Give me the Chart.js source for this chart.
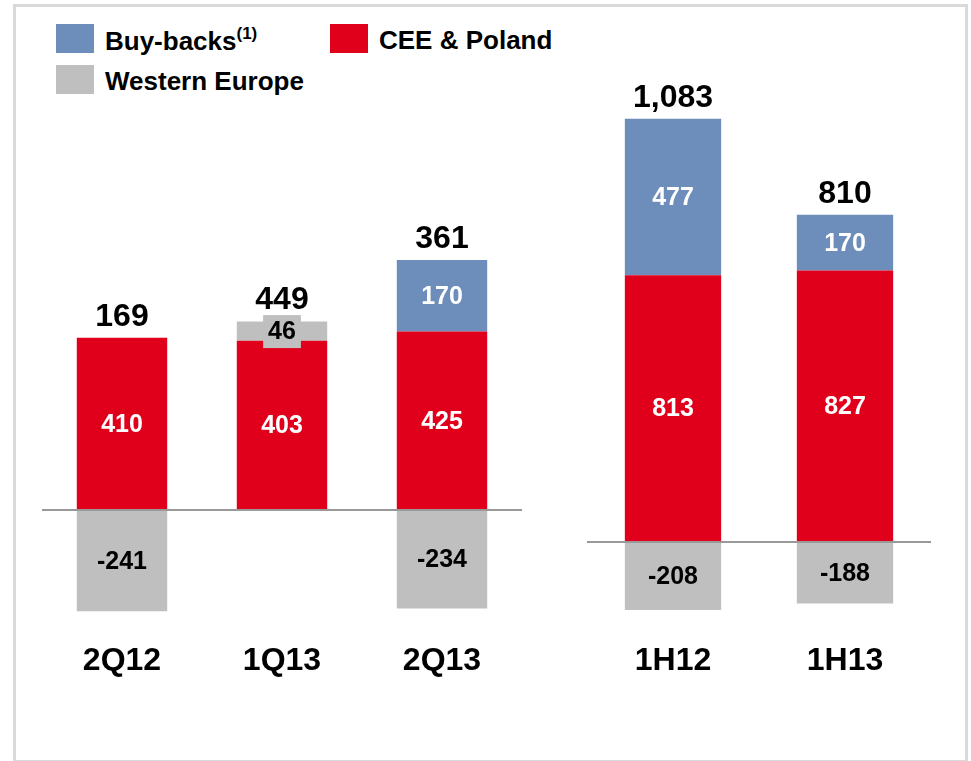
<!DOCTYPE html>
<html>
<head>
<meta charset="utf-8">
<script src="https://cdn.jsdelivr.net/npm/chart.js@4"></script>
<style>
  body { margin: 0; background: #fff; font-family: "Liberation Sans", Arial, sans-serif; }
  #frame { position: absolute; left: 13px; top: 4px; width: 949px; height: 753px; border: 3px solid #d9d9d9; }
  .leg { position: absolute; font-weight: bold; font-size: 26px; color: #000; display: flex; align-items: center; }
  .leg span.sq { display: inline-block; width: 38px; height: 29px; margin-right: 11px; }
  .leg span.tx { position: relative; top: 2px; }
  .leg sup { font-size: 17px; position: relative; top: -1px; }
  #left { position: absolute; left: 42px; top: 0; }
  #right { position: absolute; left: 587px; top: 0; }
</style>
</head>
<body>
<div id="frame"></div>
<div class="leg" style="left:56px; top:23px;"><span class="sq" style="background:#6d8dba"></span><span class="tx">Buy-backs<sup>(1)</sup></span></div>
<div class="leg" style="left:330px; top:23px;"><span class="sq" style="background:#e0001b"></span><span class="tx">CEE &amp; Poland</span></div>
<div class="leg" style="left:56px; top:64px;"><span class="sq" style="background:#bfbfbf"></span><span class="tx">Western Europe</span></div>
<canvas id="left" width="480" height="680"></canvas>
<canvas id="right" width="344" height="680"></canvas>
<script>
var quarterLabels = ['2Q12', '1Q13', '2Q13'];
var quarterCee = [410, 403, 425];
var quarterWestern = [-241, 46, -234];
var quarterBuyBacks = [0, 0, 170];
var quarterTotals = ['169', '449', '361'];

var halfLabels = ['1H12', '1H13'];
var halfCee = [813, 827];
var halfWestern = [-208, -188];
var halfBuyBacks = [477, 170];
var halfTotals = ['1,083', '810'];

var BLUE = '#6d8dba', RED = '#e0001b', GREY = '#bfbfbf';

// values inside segments, totals above, and the zero line
var labelPlugin = {
    id: 'labels',
    afterDatasetsDraw: function(chart, args, opts) {
        var ctx = chart.ctx;
        var y = chart.scales.y;
        var area = chart.chartArea;
        var zero = y.getPixelForValue(0);
        ctx.save();
        ctx.strokeStyle = '#999999';
        ctx.lineWidth = 2;
        ctx.beginPath();
        ctx.moveTo(area.left, zero);
        ctx.lineTo(area.right, zero);
        ctx.stroke();

        ctx.font = 'bold 25px "Liberation Sans", Arial, sans-serif';
        ctx.textAlign = 'center';
        ctx.textBaseline = 'middle';
        chart.data.datasets.forEach(function(ds, di) {
            var meta = chart.getDatasetMeta(di);
            meta.data.forEach(function(bar, i) {
                var v = ds.data[i];
                if (!v) return;
                var cy = (bar.y + bar.base) / 2;
                var txt = String(v);
                if (ds.label === 'Western Europe') {
                    var w = ctx.measureText(txt).width + 10;
                    ctx.fillStyle = GREY;
                    ctx.fillRect(bar.x - w / 2, cy - 16, w, 33);
                    ctx.fillStyle = '#000';
                } else {
                    ctx.fillStyle = '#fff';
                }
                ctx.fillText(txt, bar.x, cy + 1);
            });
        });

        ctx.font = 'bold 32px "Liberation Sans", Arial, sans-serif';
        ctx.fillStyle = '#000';
        opts.totals.forEach(function(t, i) {
            var top = zero, x = 0;
            chart.data.datasets.forEach(function(ds, di) {
                var bar = chart.getDatasetMeta(di).data[i];
                x = bar.x;
                if (ds.data[i] > 0) top = Math.min(top, bar.y);
            });
            ctx.fillText(t, x, top - 21);
        });
        ctx.restore();
    }
};

function makeChart(id, labels, cee, western, buy, totals, yMin, yMax, barPct) {
    return new Chart(document.getElementById(id).getContext('2d'), {
        type: 'bar',
        data: {
            labels: labels,
            datasets: [
                { label: 'CEE & Poland', data: cee, backgroundColor: RED },
                { label: 'Western Europe', data: western, backgroundColor: GREY },
                { label: 'Buy-backs', data: buy, backgroundColor: BLUE }
            ]
        },
        options: {
            responsive: false,
            animation: false,
            categoryPercentage: 1,
            barPercentage: barPct,
            layout: { padding: 0 },
            scales: {
                x: {
                    stacked: true,
                    grid: { display: false, drawTicks: false },
                    border: { display: false },
                    ticks: {
                        color: '#000',
                        padding: 0,
                        font: { size: 32, weight: 'bold', family: '"Liberation Sans", Arial, sans-serif' }
                    }
                },
                y: { stacked: true, display: false, min: yMin, max: yMax }
            },
            plugins: {
                legend: { display: false },
                tooltip: { enabled: false },
                labels: { totals: totals }
            }
        },
        plugins: [labelPlugin]
    });
}

makeChart('left', quarterLabels, quarterCee, quarterWestern, quarterBuyBacks, quarterTotals, -313, 1214, 0.565);
makeChart('right', halfLabels, halfCee, halfWestern, halfBuyBacks, halfTotals, -304, 1652, 0.56);
</script>
</body>
</html>
